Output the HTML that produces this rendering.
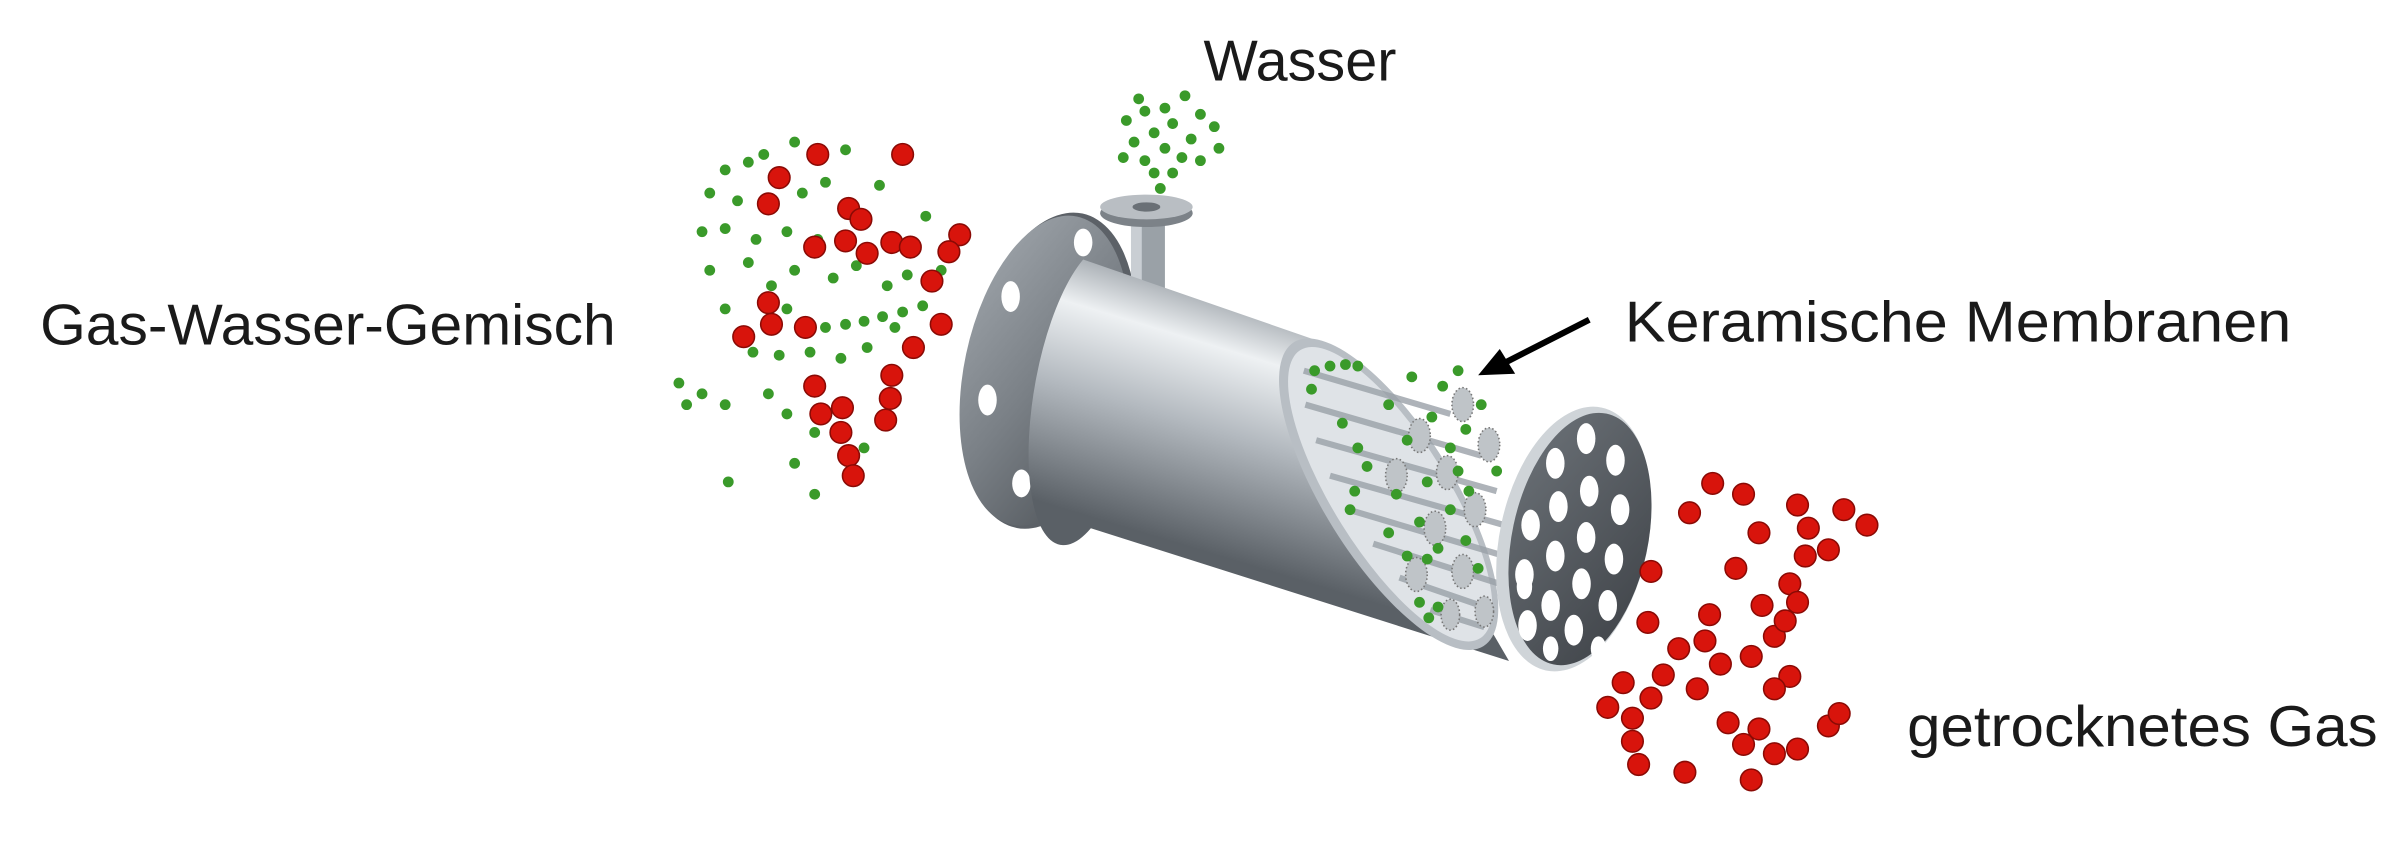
<!DOCTYPE html>
<html><head><meta charset="utf-8"><style>
html,body{margin:0;padding:0;background:#fff;}
svg{display:block;}
text{font-family:"Liberation Sans",sans-serif;fill:#1a1a1a;}
</style></head><body>
<svg width="2407" height="851" viewBox="0 0 1560 551" preserveAspectRatio="none" xmlns="http://www.w3.org/2000/svg">
<defs>
<linearGradient id="body" gradientUnits="userSpaceOnUse" x1="790" y1="180" x2="740" y2="345">
<stop offset="0" stop-color="#8d949b"/><stop offset="0.25" stop-color="#eef1f3"/><stop offset="0.55" stop-color="#b3b9bf"/><stop offset="1" stop-color="#5a6066"/></linearGradient>
<linearGradient id="fl" x1="0" y1="0" x2="1" y2="1">
<stop offset="0" stop-color="#a2a8ae"/><stop offset="0.5" stop-color="#7a8086"/><stop offset="1" stop-color="#4b5055"/></linearGradient>
<linearGradient id="ep" x1="0" y1="0" x2="1" y2="1">
<stop offset="0" stop-color="#6c7278"/><stop offset="1" stop-color="#3e4247"/></linearGradient>
</defs>

<!-- left flange -->
<ellipse cx="680" cy="240" rx="54" ry="104" transform="rotate(12 680 240)" fill="#5c6167"/>
<ellipse cx="677" cy="240" rx="52" ry="102" transform="rotate(12 677 240)" fill="url(#fl)"/>
<g fill="#fff"><ellipse cx="702" cy="157" rx="6" ry="9"/><ellipse cx="655" cy="192" rx="6" ry="10"/><ellipse cx="640" cy="259" rx="6" ry="10"/><ellipse cx="662" cy="313" rx="6" ry="9"/><ellipse cx="707" cy="323" rx="6" ry="8"/></g>

<!-- nozzle -->
<rect x="733" y="138" width="22" height="55" fill="#9aa1a7"/>
<rect x="733" y="138" width="7" height="55" fill="#c9ced3"/>
<ellipse cx="743" cy="138" rx="30" ry="9" fill="#7c8288"/>
<ellipse cx="743" cy="134" rx="30" ry="8" fill="#b9bec3"/>
<ellipse cx="743" cy="134" rx="9" ry="3" fill="#6a7076"/>

<!-- body -->
<path d="M702,168 L858,222 L978,428 L707,342 A30 87 10 0 1 702,168 Z" fill="url(#body)"/>

<!-- cut opening with tubes -->
<ellipse cx="900" cy="320" rx="116" ry="42" transform="rotate(58 900 320)" fill="#b8bec4"/>
<ellipse cx="901" cy="320" rx="110" ry="37" transform="rotate(58 901 320)" fill="#dfe3e7"/>
<g stroke="#9aa1a8" stroke-width="4" opacity="0.8">
<line x1="845" y1="240" x2="940" y2="268"/><line x1="846" y1="262" x2="960" y2="295"/>
<line x1="853" y1="285" x2="970" y2="318"/><line x1="862" y1="308" x2="975" y2="340"/>
<line x1="874" y1="330" x2="975" y2="360"/><line x1="890" y1="352" x2="972" y2="378"/>
<line x1="907" y1="374" x2="968" y2="395"/><line x1="927" y1="395" x2="962" y2="406"/>
</g>
<g fill="#bfc4c8" stroke="#777" stroke-width="1" stroke-dasharray="1 1.5">
<ellipse cx="920" cy="282" rx="7" ry="11"/><ellipse cx="948" cy="262" rx="7" ry="11"/><ellipse cx="905" cy="308" rx="7" ry="11"/>
<ellipse cx="938" cy="306" rx="7" ry="11"/><ellipse cx="965" cy="288" rx="7" ry="11"/><ellipse cx="930" cy="342" rx="7" ry="11"/>
<ellipse cx="956" cy="330" rx="7" ry="11"/><ellipse cx="918" cy="372" rx="7" ry="11"/><ellipse cx="948" cy="370" rx="7" ry="11"/>
<ellipse cx="962" cy="396" rx="6" ry="10"/><ellipse cx="940" cy="398" rx="6" ry="10"/>
</g>

<!-- end plate -->
<ellipse cx="1020" cy="349" rx="48" ry="87" transform="rotate(12 1020 349)" fill="#cfd4d8"/>
<ellipse cx="1024" cy="349" rx="44" ry="83" transform="rotate(12 1024 349)" fill="url(#ep)"/>
<g fill="#fff">
<ellipse cx="1028" cy="284" rx="6" ry="10"/><ellipse cx="1047" cy="298" rx="6" ry="10"/><ellipse cx="1008" cy="300" rx="6" ry="10"/>
<ellipse cx="1030" cy="318" rx="6" ry="10"/><ellipse cx="1050" cy="330" rx="6" ry="10"/><ellipse cx="1010" cy="328" rx="6" ry="10"/>
<ellipse cx="992" cy="340" rx="6" ry="10"/><ellipse cx="1028" cy="348" rx="6" ry="10"/><ellipse cx="1046" cy="362" rx="6" ry="10"/>
<ellipse cx="1008" cy="360" rx="6" ry="10"/><ellipse cx="988" cy="372" rx="6" ry="10"/><ellipse cx="1025" cy="378" rx="6" ry="10"/>
<ellipse cx="1042" cy="392" rx="6" ry="10"/><ellipse cx="1005" cy="392" rx="6" ry="10"/><ellipse cx="990" cy="405" rx="6" ry="10"/>
<ellipse cx="1020" cy="408" rx="6" ry="10"/><ellipse cx="1005" cy="420" rx="5" ry="8"/><ellipse cx="988" cy="380" rx="5" ry="8"/><ellipse cx="1036" cy="420" rx="5" ry="8"/>
</g>

<!-- green particles in cut -->
<g fill="#3a9a2a">
<circle cx="852" cy="240" r="3.5"/><circle cx="862" cy="237" r="3.5"/><circle cx="872" cy="236" r="3.5"/><circle cx="880" cy="237" r="3.5"/><circle cx="850" cy="252" r="3.5"/>
<circle cx="870" cy="274" r="3.5"/><circle cx="900" cy="262" r="3.5"/><circle cx="915" cy="244" r="3.5"/><circle cx="935" cy="250" r="3.5"/><circle cx="945" cy="240" r="3.5"/>
<circle cx="960" cy="262" r="3.5"/><circle cx="950" cy="278" r="3.5"/><circle cx="940" cy="290" r="3.5"/><circle cx="928" cy="270" r="3.5"/><circle cx="912" cy="285" r="3.5"/>
<circle cx="880" cy="290" r="3.5"/><circle cx="886" cy="302" r="3.5"/><circle cx="878" cy="318" r="3.5"/><circle cx="905" cy="320" r="3.5"/><circle cx="925" cy="312" r="3.5"/>
<circle cx="945" cy="305" r="3.5"/><circle cx="952" cy="318" r="3.5"/><circle cx="940" cy="330" r="3.5"/><circle cx="920" cy="338" r="3.5"/><circle cx="900" cy="345" r="3.5"/>
<circle cx="932" cy="355" r="3.5"/><circle cx="950" cy="350" r="3.5"/><circle cx="958" cy="368" r="3.5"/><circle cx="925" cy="362" r="3.5"/><circle cx="912" cy="360" r="3.5"/>
<circle cx="920" cy="390" r="3.5"/><circle cx="926" cy="400" r="3.5"/><circle cx="932" cy="393" r="3.5"/><circle cx="970" cy="305" r="3.5"/><circle cx="875" cy="330" r="3.5"/>
</g>

<!-- green particles top (Wasser) -->
<g fill="#3a9a2a">
<circle cx="730" cy="78" r="3.5"/><circle cx="742" cy="72" r="3.5"/><circle cx="755" cy="70" r="3.5"/><circle cx="768" cy="62" r="3.5"/><circle cx="778" cy="74" r="3.5"/>
<circle cx="787" cy="82" r="3.5"/><circle cx="735" cy="92" r="3.5"/><circle cx="748" cy="86" r="3.5"/><circle cx="760" cy="80" r="3.5"/><circle cx="772" cy="90" r="3.5"/>
<circle cx="790" cy="96" r="3.5"/><circle cx="728" cy="102" r="3.5"/><circle cx="742" cy="104" r="3.5"/><circle cx="755" cy="96" r="3.5"/><circle cx="766" cy="102" r="3.5"/>
<circle cx="778" cy="104" r="3.5"/><circle cx="748" cy="112" r="3.5"/><circle cx="752" cy="122" r="3.5"/><circle cx="760" cy="112" r="3.5"/><circle cx="738" cy="64" r="3.5"/>
</g>

<!-- left cloud green -->
<g fill="#3a9a2a">
<circle cx="470" cy="110" r="3.5"/><circle cx="485" cy="105" r="3.5"/><circle cx="495" cy="100" r="3.5"/><circle cx="515" cy="92" r="3.5"/><circle cx="548" cy="97" r="3.5"/>
<circle cx="460" cy="125" r="3.5"/><circle cx="478" cy="130" r="3.5"/><circle cx="520" cy="125" r="3.5"/><circle cx="535" cy="118" r="3.5"/><circle cx="570" cy="120" r="3.5"/>
<circle cx="455" cy="150" r="3.5"/><circle cx="470" cy="148" r="3.5"/><circle cx="490" cy="155" r="3.5"/><circle cx="510" cy="150" r="3.5"/><circle cx="530" cy="155" r="3.5"/>
<circle cx="600" cy="140" r="3.5"/><circle cx="610" cy="175" r="3.5"/><circle cx="460" cy="175" r="3.5"/><circle cx="485" cy="170" r="3.5"/><circle cx="515" cy="175" r="3.5"/>
<circle cx="540" cy="180" r="3.5"/><circle cx="555" cy="172" r="3.5"/><circle cx="575" cy="185" r="3.5"/><circle cx="588" cy="178" r="3.5"/><circle cx="598" cy="198" r="3.5"/>
<circle cx="585" cy="202" r="3.5"/><circle cx="572" cy="205" r="3.5"/><circle cx="560" cy="208" r="3.5"/><circle cx="548" cy="210" r="3.5"/><circle cx="535" cy="212" r="3.5"/>
<circle cx="510" cy="200" r="3.5"/><circle cx="470" cy="200" r="3.5"/><circle cx="488" cy="228" r="3.5"/><circle cx="505" cy="230" r="3.5"/><circle cx="525" cy="228" r="3.5"/>
<circle cx="545" cy="232" r="3.5"/><circle cx="562" cy="225" r="3.5"/><circle cx="440" cy="248" r="3.5"/><circle cx="455" cy="255" r="3.5"/><circle cx="470" cy="262" r="3.5"/>
<circle cx="445" cy="262" r="3.5"/><circle cx="498" cy="255" r="3.5"/><circle cx="510" cy="268" r="3.5"/><circle cx="528" cy="280" r="3.5"/><circle cx="515" cy="300" r="3.5"/>
<circle cx="528" cy="320" r="3.5"/><circle cx="472" cy="312" r="3.5"/><circle cx="560" cy="290" r="3.5"/><circle cx="580" cy="212" r="3.5"/><circle cx="500" cy="185" r="3.5"/>
</g>
<!-- left cloud red -->
<g fill="#d8140c" stroke="#8a0a05" stroke-width="1">
<circle cx="530" cy="100" r="7"/><circle cx="585" cy="100" r="7"/><circle cx="505" cy="115" r="7"/><circle cx="498" cy="132" r="7"/><circle cx="550" cy="135" r="7"/>
<circle cx="558" cy="142" r="7"/><circle cx="548" cy="156" r="7"/><circle cx="578" cy="157" r="7"/><circle cx="562" cy="164" r="7"/><circle cx="590" cy="160" r="7"/>
<circle cx="622" cy="152" r="7"/><circle cx="615" cy="163" r="7"/><circle cx="604" cy="182" r="7"/><circle cx="610" cy="210" r="7"/><circle cx="592" cy="225" r="7"/>
<circle cx="578" cy="243" r="7"/><circle cx="577" cy="258" r="7"/><circle cx="574" cy="272" r="7"/><circle cx="546" cy="264" r="7"/><circle cx="532" cy="268" r="7"/>
<circle cx="528" cy="250" r="7"/><circle cx="522" cy="212" r="7"/><circle cx="498" cy="196" r="7"/><circle cx="500" cy="210" r="7"/><circle cx="482" cy="218" r="7"/>
<circle cx="545" cy="280" r="7"/><circle cx="550" cy="295" r="7"/><circle cx="553" cy="308" r="7"/><circle cx="528" cy="160" r="7"/>
</g>
<!-- right cloud red -->
<g fill="#d8140c" stroke="#8a0a05" stroke-width="1">
<circle cx="1110" cy="313" r="7"/><circle cx="1130" cy="320" r="7"/><circle cx="1095" cy="332" r="7"/><circle cx="1165" cy="327" r="7"/><circle cx="1195" cy="330" r="7"/>
<circle cx="1210" cy="340" r="7"/><circle cx="1172" cy="342" r="7"/><circle cx="1140" cy="345" r="7"/><circle cx="1170" cy="360" r="7"/><circle cx="1185" cy="356" r="7"/>
<circle cx="1125" cy="368" r="7"/><circle cx="1070" cy="370" r="7"/><circle cx="1160" cy="378" r="7"/><circle cx="1165" cy="390" r="7"/><circle cx="1142" cy="392" r="7"/>
<circle cx="1108" cy="398" r="7"/><circle cx="1068" cy="403" r="7"/><circle cx="1150" cy="412" r="7"/><circle cx="1157" cy="402" r="7"/><circle cx="1105" cy="415" r="7"/>
<circle cx="1088" cy="420" r="7"/><circle cx="1115" cy="430" r="7"/><circle cx="1135" cy="425" r="7"/><circle cx="1160" cy="438" r="7"/><circle cx="1150" cy="446" r="7"/>
<circle cx="1078" cy="437" r="7"/><circle cx="1100" cy="446" r="7"/><circle cx="1052" cy="442" r="7"/><circle cx="1070" cy="452" r="7"/><circle cx="1058" cy="465" r="7"/>
<circle cx="1120" cy="468" r="7"/><circle cx="1140" cy="472" r="7"/><circle cx="1150" cy="488" r="7"/><circle cx="1165" cy="485" r="7"/><circle cx="1185" cy="470" r="7"/>
<circle cx="1192" cy="462" r="7"/><circle cx="1130" cy="482" r="7"/><circle cx="1058" cy="480" r="7"/><circle cx="1092" cy="500" r="7"/><circle cx="1135" cy="505" r="7"/>
<circle cx="1062" cy="495" r="7"/><circle cx="1042" cy="458" r="7"/>
</g>

<!-- arrow -->
<line x1="1030" y1="207" x2="975" y2="235" stroke="#000" stroke-width="4"/>
<polygon points="958,243 972,226 982,242" fill="#000"/>

<!-- labels -->
<text x="780" y="52" font-size="37" textLength="125" lengthAdjust="spacingAndGlyphs">Wasser</text>
<text x="26" y="223" font-size="37" textLength="373" lengthAdjust="spacingAndGlyphs">Gas-Wasser-Gemisch</text>
<text x="1053" y="221" font-size="37" textLength="432" lengthAdjust="spacingAndGlyphs">Keramische Membranen</text>
<text x="1236" y="483" font-size="37" textLength="305" lengthAdjust="spacingAndGlyphs">getrocknetes Gas</text>
</svg>
</body></html>
